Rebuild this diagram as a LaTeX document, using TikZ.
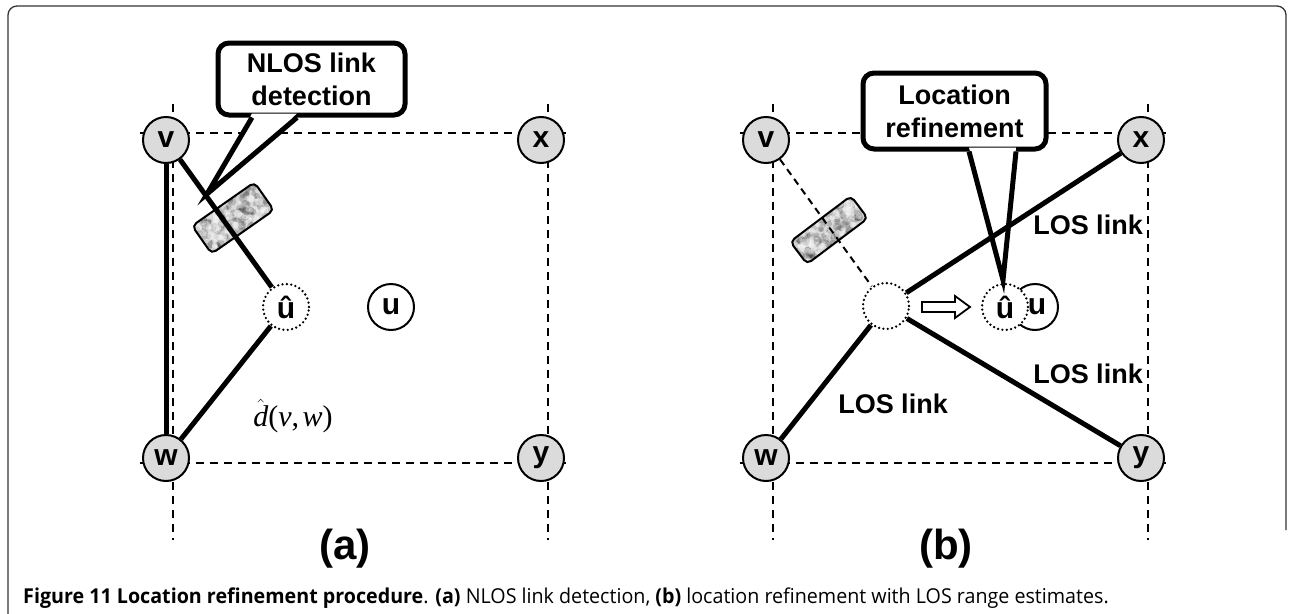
\documentclass[tikz,border=0pt]{standalone}
\usepackage{fontspec}
\setsansfont{Liberation Sans}
\newfontfamily\capfont[FakeStretch=0.96]{Open Sans}
\newfontfamily\serifit{Liberation Serif}
\usetikzlibrary{calc}
\begin{document}
\begin{tikzpicture}[x=1pt,y=-1pt,
  sensor/.style={circle, draw, line width=2pt, fill=gray!28, minimum size=46pt, inner sep=0pt,
    font=\sffamily\bfseries\fontsize{30}{30}\selectfont},
  unknown/.style={circle, draw, line width=2pt, fill=white, minimum size=46pt, inner sep=0pt,
    font=\sffamily\bfseries\fontsize{30}{30}\selectfont},
  estim/.style={circle, draw, line width=2.6pt, dash pattern=on 0pt off 4.4pt, line cap=round, fill=white,
    minimum size=46pt, inner sep=0pt, font=\sffamily\bfseries\fontsize{30}{30}\selectfont},
  link/.style={line width=5pt},
  gridline/.style={line width=2.5pt, dash pattern=on 8pt off 6pt},
  nlosline/.style={line width=2pt, dash pattern=on 7pt off 5pt},
  callbox/.style={draw, line width=5pt, rounded corners=11pt, fill=white, align=center, inner sep=2pt,
    font=\sffamily\bfseries\fontsize{27}{33}\selectfont},
  pointer/.style={line width=5pt, line join=miter},
  lbl/.style={font=\sffamily\bfseries\fontsize{27}{27}\selectfont},
  panel/.style={font=\sffamily\bfseries\fontsize{42}{42}\selectfont}
]
\useasboundingbox (0,0) rectangle (1290,613);
% outer frame
\draw[line width=1.3pt, black!80, rounded corners=9pt] (8,616) -- (8,6) -- (1286,6) -- (1286,530);

% grids
\foreach \ox in {0,600}{
  \draw[gridline] (140+\ox,133) -- (566+\ox,133);
  \draw[gridline] (140+\ox,463) -- (566+\ox,463);
  \draw[gridline] (173+\ox,104) -- (173+\ox,540);
  \draw[gridline] (548+\ox,104) -- (548+\ox,540);
}

% obstacles
\pgfmathsetseed{7}
\begin{scope}[shift={(233,218)}, rotate=35]
  \fill[gray!30, rounded corners=5pt] (-38,-17) rectangle (38,17);
  \begin{scope}
    \clip[rounded corners=5pt] (-38,-17) rectangle (38,17);
    \foreach \i in {1,...,110}{
      \pgfmathsetmacro{\px}{rand*38}\pgfmathsetmacro{\py}{rand*17}\pgfmathsetmacro{\pr}{1.5+rnd*3}
      \fill[black, opacity=0.16] (\px,\py) circle (\pr);
    }
    \foreach \i in {1,...,50}{
      \pgfmathsetmacro{\px}{rand*38}\pgfmathsetmacro{\py}{rand*17}\pgfmathsetmacro{\pr}{1.5+rnd*3}
      \fill[white, opacity=0.4] (\px,\py) circle (\pr);
    }
  \end{scope}
  \draw[line width=2pt, rounded corners=5pt] (-38,-17) rectangle (38,17);
\end{scope}
\begin{scope}[shift={(829,230)}, rotate=37]
  \fill[gray!30, rounded corners=5pt] (-38,-14) rectangle (38,14);
  \begin{scope}
    \clip[rounded corners=5pt] (-38,-14) rectangle (38,14);
    \foreach \i in {1,...,95}{
      \pgfmathsetmacro{\px}{rand*38}\pgfmathsetmacro{\py}{rand*14}\pgfmathsetmacro{\pr}{1.5+rnd*3}
      \fill[black, opacity=0.16] (\px,\py) circle (\pr);
    }
    \foreach \i in {1,...,45}{
      \pgfmathsetmacro{\px}{rand*38}\pgfmathsetmacro{\py}{rand*14}\pgfmathsetmacro{\pr}{1.5+rnd*3}
      \fill[white, opacity=0.4] (\px,\py) circle (\pr);
    }
  \end{scope}
  \draw[line width=2pt, rounded corners=5pt] (-38,-14) rectangle (38,14);
\end{scope}

% ---------- panel (a) ----------
\node[sensor] (va) at (166,140) {v};
\node[sensor] (xa) at (541,140) {x};
\node[sensor] (wa) at (166,458) {w};
\node[sensor] (ya) at (541,458) {y};
\node[estim]  (uha) at (286,307) {û};
\node[unknown] (ua) at (391,307) {u};

\draw[link] (va) -- (wa);
\draw[link] (va) -- (uha);
\draw[link] (wa) -- (uha);
\node (dlabel) at (293,416) {\serifit\fontsize{30}{30}\selectfont
  $\hat{\mbox{\itshape d}}$(\textit{v},\kern0.12em\textit{w})};

% callout (a)
\node[callbox, minimum width=187pt, minimum height=72pt] (ca) at (311.5,79) {NLOS link\\detection};
\coordinate (ta) at (207,194);
\fill[white] ($(ca.south)+(-59.5,-4)$) -- (ta) -- ($(ca.south)+(-14.5,-4)$) -- cycle;
\draw[pointer] ($(ca.south)+(-59.5,0)$) -- (ta) -- ($(ca.south)+(-14.5,0)$);

% ---------- panel (b) ----------
\node[sensor] (vb) at (766,140) {v};
\node[sensor] (xb) at (1141,140) {x};
\node[sensor] (wb) at (766,458) {w};
\node[sensor] (yb) at (1141,458) {y};
\node[estim]  (old) at (886,306) {};
\node[unknown] (ub) at (1035,307) {};
\node[estim]  (uhb) at (1005,307) {û};
\node[font=\sffamily\bfseries\fontsize{30}{30}\selectfont] (ubl) at (1037,307) {u};

\draw[nlosline] (vb) -- (old);

% callout (b)
\node[callbox, minimum width=183pt, minimum height=76pt] (cb) at (954.5,111) {Location\\refinement};
\coordinate (tb) at (1003,280);
\fill[white] ($(cb.south)+(14.5,-4)$) -- (tb) -- ($(cb.south)+(61.5,-4)$) -- cycle;
\draw[pointer] ($(cb.south)+(14.5,0)$) -- (tb) -- ($(cb.south)+(61.5,0)$);

\draw[link] (old) -- (xb);
\draw[link] (old) -- (wb);
\draw[link] (old) -- (yb);

\node[lbl] (l1) at (1088,225) {LOS link};
\node[lbl] (l2) at (1088,374) {LOS link};
\node[lbl] (l3) at (893,404) {LOS link};

% refinement arrow
\coordinate (arA) at (922,307);
\draw[line width=1.8pt, fill=white, line join=miter]
  ($(arA)+(0,-5)$) -- ($(arA)+(33,-5)$) -- ($(arA)+(33,-11)$) -- ($(arA)+(48,0)$)
  -- ($(arA)+(33,11)$) -- ($(arA)+(33,5)$) -- ($(arA)+(0,5)$) -- cycle;

% panel titles
\node[panel] (pa) at (345,549) {(a)};
\node[panel] (pb) at (946,549) {(b)};

% caption
\node[anchor=base west, inner sep=0pt, font=\capfont\fontsize{20.5}{20.5}\selectfont] (cap) at (23,603)
  {\textbf{Figure 11 Location refinement procedure}. \textbf{(a)} NLOS link detection, \textbf{(b)} location refinement with LOS range estimates.};
\end{tikzpicture}
\end{document}
